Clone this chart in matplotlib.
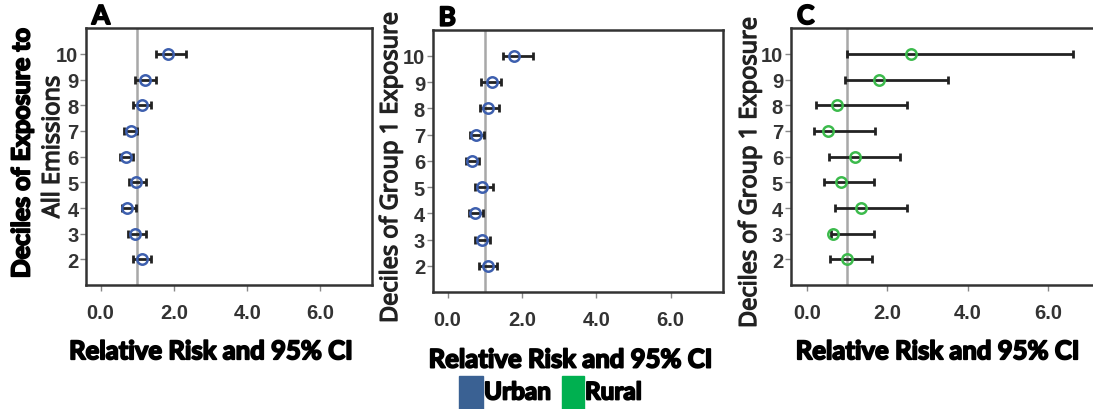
import matplotlib.pyplot as plt
from matplotlib.patches import Rectangle
import matplotlib.patheffects as pe
import numpy as np

deciles = [2, 3, 4, 5, 6, 7, 8, 9, 10]
tick_vals = [0, 2, 4, 6]
tick_labels = ["0.0", "2.0", "4.0", "6.0"]

# panel A: urban, all emissions
a_rr = [1.12, 0.95, 0.73, 0.96, 0.68, 0.82, 1.12, 1.20, 1.83]
a_lo = [0.87, 0.75, 0.59, 0.77, 0.52, 0.65, 0.87, 0.95, 1.51]
a_hi = [1.38, 1.23, 0.96, 1.23, 0.87, 1.00, 1.38, 1.51, 2.33]

# panel B: urban, group 1
b_rr = [1.08, 0.92, 0.74, 0.93, 0.66, 0.77, 1.08, 1.20, 1.78]
b_lo = [0.85, 0.73, 0.58, 0.73, 0.50, 0.60, 0.87, 0.91, 1.48]
b_hi = [1.32, 1.14, 0.96, 1.22, 0.84, 0.98, 1.37, 1.45, 2.30]

# panel C: rural, group 1
c_rr = [0.99, 0.65, 1.34, 0.86, 1.19, 0.54, 0.75, 1.80, 2.58]
c_lo = [0.59, 0.60, 0.71, 0.42, 0.56, 0.17, 0.22, 0.94, 1.01]
c_hi = [1.63, 1.67, 2.49, 1.67, 2.31, 1.69, 2.49, 3.50, 6.62]

urban = "#3d5fae"
rural = "#3cba4c"

# thick black headings: bold face plus a stroke to fatten it
fat = [pe.withStroke(linewidth=1.3, foreground="black")]
heavy = dict(family="Lato", weight="bold", path_effects=fat)
semi = dict(family="Open Sans", color="#222222",
            path_effects=[pe.withStroke(linewidth=1.0, foreground="#222222")])

fig = plt.figure(figsize=(10.93, 4.10), dpi=100)

def panel(rect, rr, lo, hi, color, letter, xlab_x):
    ax = fig.add_axes(rect)
    rr = np.array(rr)
    err = [rr - np.array(lo), np.array(hi) - rr]
    ax.axvline(1.0, color="#a8a8a8", lw=1.8, zorder=1)
    ax.errorbar(rr, deciles, xerr=err, fmt="none", ecolor="#222222",
                elinewidth=2, capsize=3, capthick=2, zorder=2)
    ax.plot(rr, deciles, "o", mfc="none", mec=color, ms=7.5, mew=1.8, zorder=3)
    ax.set_xlim(-0.4, 7.4)
    ax.set_ylim(1, 11)
    ax.set_yticks(deciles)
    ax.set_xticks(tick_vals)
    ax.set_xticklabels(tick_labels)
    for s in ax.spines.values():
        s.set_color("#333333")
        s.set_linewidth(1.8)
    ax.tick_params(axis="both", length=4, width=1, color="#888888",
                   labelcolor="#333333", labelsize=14.5)
    ax.tick_params(axis="x", pad=9)
    ax.tick_params(axis="y", pad=1.5)
    for lab in ax.get_xticklabels() + ax.get_yticklabels():
        lab.set_family("Liberation Sans")
        lab.set_weight("bold")
    ax.set_xlabel("Relative Risk and 95% CI", fontsize=18.5, va="center", **heavy)
    ax.xaxis.set_label_coords(xlab_x, -0.257)
    ax.text(0.02, 1.0, letter, transform=ax.transAxes, fontsize=19,
            ha="left", va="bottom", **heavy)
    return ax

axA = panel([0.0787, 0.302, 0.2614, 0.627], a_rr, a_lo, a_hi, urban, "A", 0.439)
axB = panel([0.3959, 0.285, 0.2653, 0.640], b_rr, b_lo, b_hi, urban, "B", 0.477)
axC = panel([0.7234, 0.302, 0.2870, 0.627], c_rr, c_lo, c_hi, rural, "C", 0.47)
axC.spines["right"].set_visible(False)

# y axis titles
fig.text(22 / 1093, 1 - 154 / 410, "Deciles of Exposure to", rotation=90,
         ha="center", va="center", fontsize=18, **heavy)
fig.text(53 / 1093, 1 - 148 / 410, "All Emissions", rotation=90,
         ha="center", va="center", fontsize=17, **semi)
for xc, yc in [(391, 168), (750, 173)]:
    fig.text(xc / 1093, 1 - yc / 410, "Deciles of Group 1 Exposure", rotation=90,
             ha="center", va="center", fontsize=17, **semi)

# legend
fig.patches.append(Rectangle((459 / 1093, 0), 24 / 1093, 33 / 410,
                             transform=fig.transFigure, color="#3a6193"))
fig.patches.append(Rectangle((562 / 1093, 0), 22 / 1093, 33 / 410,
                             transform=fig.transFigure, color="#00b050"))
fig.text(484 / 1093, 1 - 393 / 410, "Urban", ha="left", va="center",
         fontsize=17.5, **heavy)
fig.text(585 / 1093, 1 - 393 / 410, "Rural", ha="left", va="center",
         fontsize=17.5, **heavy)

fig.savefig("out.png", dpi=100)
